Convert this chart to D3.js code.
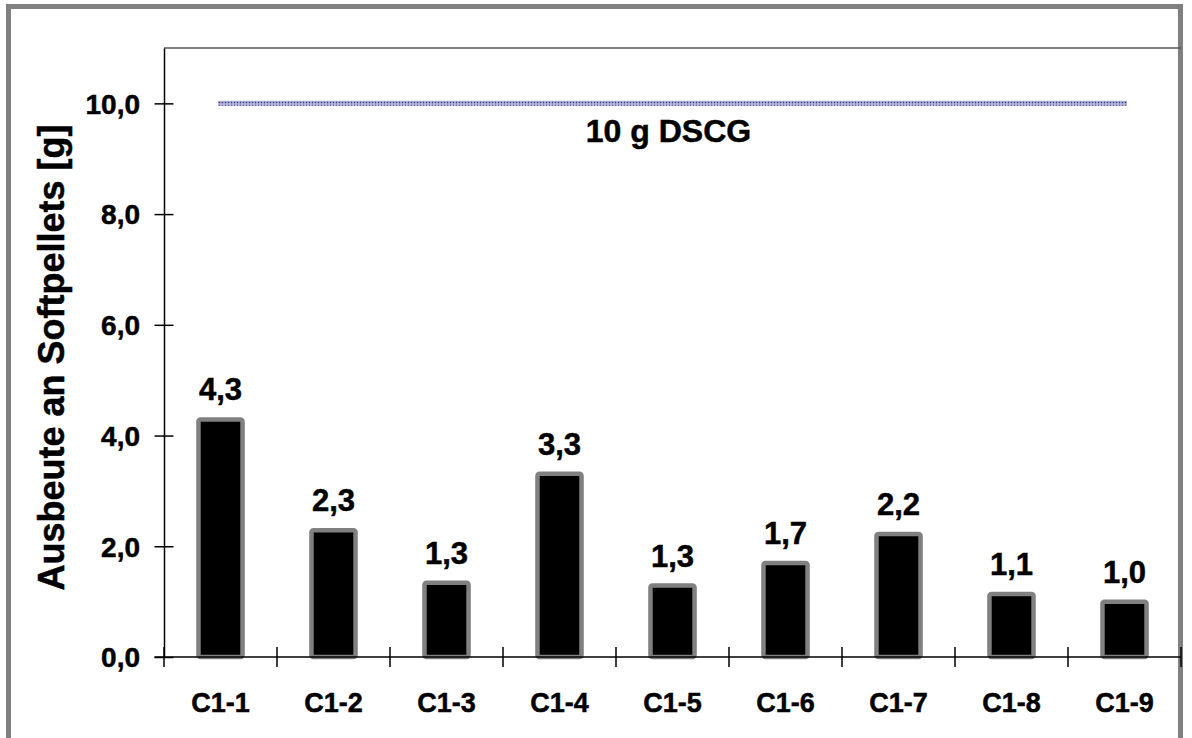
<!DOCTYPE html>
<html><head><meta charset="utf-8">
<script src="https://cdn.jsdelivr.net/npm/d3@7"></script>
<style>body{margin:0;background:#fff}svg{display:block}text{font-family:"Liberation Sans",Arial,sans-serif;font-weight:bold;fill:#000;stroke:#000;stroke-width:0.5px}</style>
</head><body>
<svg id="c" width="1192" height="738"></svg>
<script>
const categories = ["C1-1","C1-2","C1-3","C1-4","C1-5","C1-6","C1-7","C1-8","C1-9"];
const yields = [4.29, 2.29, 1.34, 3.31, 1.29, 1.70, 2.22, 1.14, 1.00];
const reference = [10,10,10,10,10,10,10,10,10];
const referenceLabel = "10 g DSCG";
const yTicks = [0,2,4,6,8,10];
const yTitle = "Ausbeute an Softpellets [g]";

const svg = d3.select("#c");
const m = {left:164, right:1181, top:48, bottom:657};

// outer frame
svg.append("rect").attr("x",8.5).attr("y",6.5).attr("width",1172).attr("height",760)
  .attr("fill","none").attr("stroke","#808080").attr("stroke-width",5);

const x = d3.scaleBand().domain(categories).range([m.left, m.right]).padding(0);
const y = d3.scaleLinear().domain([0,11]).range([m.bottom, m.top]);
const fmt = v => d3.format(".1f")(v).replace(".", ",");

// pattern for reference line
const defs = svg.append("defs");
const pat = defs.append("pattern").attr("id","dots").attr("patternUnits","userSpaceOnUse")
  .attr("width",3).attr("height",3);
pat.append("rect").attr("width",3).attr("height",3).attr("fill","#9a9acc");
pat.append("rect").attr("width",1).attr("height",1).attr("fill","#383880");
pat.append("rect").attr("x",1.5).attr("y",1.5).attr("width",1).attr("height",1).attr("fill","#ffffff");

// plot top border
svg.append("line").attr("x1",m.left).attr("x2",m.right).attr("y1",m.top).attr("y2",m.top)
  .attr("stroke","#555").attr("stroke-width",1.5);

// bars
const bw = x.step()*0.39;
svg.append("g").selectAll("rect").data(yields).join("rect")
  .attr("x",(d,i)=>x(categories[i])+x.bandwidth()/2-bw/2)
  .attr("y",d=>y(d))
  .attr("width",bw)
  .attr("height",d=>y(0)-y(d))
  .attr("rx",2)
  .attr("fill","#000").attr("stroke","#808080").attr("stroke-width",4.5);

// bar labels
svg.append("g").selectAll("text").data(yields).join("text")
  .attr("x",(d,i)=>x(categories[i])+x.bandwidth()/2)
  .attr("y",d=>y(d)-19)
  .attr("text-anchor","middle").style("font-size","31px")
  .text(d=>fmt(d));

// reference line
const line = d3.line().x((d,i)=>x(categories[i])+x.bandwidth()/2).y(d=>y(d));
svg.append("path").datum(reference).attr("d",line)
  .attr("fill","none").attr("stroke","url(#dots)").attr("stroke-width",5).attr("stroke-linecap","square");
svg.append("text").attr("x",(m.left+m.right)/2-4).attr("y",y(10)+39)
  .attr("text-anchor","middle").style("font-size","32px").text(referenceLabel);

// y axis
const yAxis = d3.axisLeft(y).tickValues(yTicks).tickFormat(fmt).tickSizeInner(-10).tickSizeOuter(0).tickPadding(0);
const gy = svg.append("g").attr("transform",`translate(${m.left},0)`).call(yAxis);
gy.select(".domain").attr("stroke","#000").attr("stroke-width",1.5);
gy.selectAll(".tick line").attr("x1",-9.5).attr("x2",9.5).attr("stroke","#000").attr("stroke-width",1.5);
gy.selectAll(".tick text").attr("x",-24).attr("dy","0.35em").style("font-size","28px")
  .style("font-family","'Liberation Sans',Arial,sans-serif").style("font-weight","bold")
  .attr("fill","#000").style("stroke","#000").style("stroke-width","0.5px");

// x axis
const gx = svg.append("g").attr("transform",`translate(0,${m.bottom})`);
gx.append("line").attr("x1",m.left-9.5).attr("x2",m.right).attr("y1",0).attr("y2",0)
  .attr("stroke","#000").attr("stroke-width",1.5);
const bounds = categories.map(c=>x(c)).concat([m.right]);
gx.selectAll("line.t").data(bounds).join("line").attr("class","t")
  .attr("x1",d=>d).attr("x2",d=>d).attr("y1",-10).attr("y2",10)
  .attr("stroke","#000").attr("stroke-width",1.5);
gx.selectAll("text").data(categories).join("text")
  .attr("x",d=>x(d)+x.bandwidth()/2).attr("y",55)
  .attr("text-anchor","middle").style("font-size","27px").text(d=>d);

// y title
svg.append("text").attr("transform",`translate(64,${(m.top+m.bottom)/2+5}) rotate(-90)`)
  .attr("text-anchor","middle").style("font-size","36px").text(yTitle);
</script>
</body></html>
